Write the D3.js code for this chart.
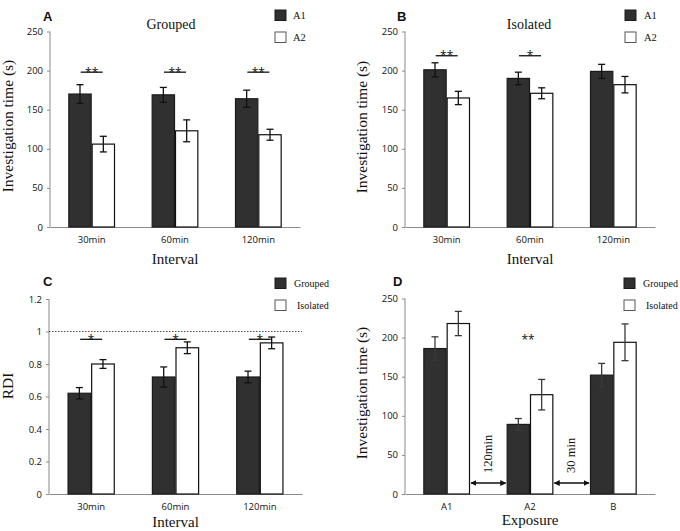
<!DOCTYPE html>
<html>
<head>
<meta charset="utf-8">
<script src="https://cdn.jsdelivr.net/npm/d3@7"></script>
<style>
  html, body { margin: 0; padding: 0; background: #fff; }
  svg { display: block; }
</style>
</head>
<body>
<svg id="chart" width="680" height="531"></svg>
<script>
// ---------- DATA ----------
const intervals = ["30min", "60min", "120min"];
const exposures = ["A1", "A2", "B"];

// Panel A (Grouped)
const groupedA1 = [170, 169, 164];
const groupedA1Err = [12, 9.5, 11];
const groupedA2 = [106, 123, 118];
const groupedA2Err = [10, 14, 7];
const sigA = ["**", "**", "**"];

// Panel B (Isolated)
const isolatedA1 = [201, 190, 199];
const isolatedA1Err = [9, 8, 9];
const isolatedA2 = [165, 171, 182];
const isolatedA2Err = [8.5, 7, 10.5];
const sigB = ["**", "*", ""];

// Panel C (RDI)
const rdiGrouped = [0.62, 0.72, 0.72];
const rdiGroupedErr = [0.035, 0.062, 0.036];
const rdiIsolated = [0.80, 0.90, 0.93];
const rdiIsolatedErr = [0.027, 0.036, 0.036];
const sigC = ["*", "*", "*"];

// Panel D (Exposure)
const expGrouped = [186, 89, 152];
const expGroupedErr = [15, 7.5, 15];
const expIsolated = [218, 127, 194];
const expIsolatedErr = [15.5, 19.5, 23.5];

const ticksTime = [0, 50, 100, 150, 200, 250];
const ticksRDI = [0, 0.2, 0.4, 0.6, 0.8, 1, 1.2];

// ---------- STYLE ----------
const DARK = "#303030";
const AXIS = "#8a8a8a";
const SERIF = "'Liberation Serif', 'Times New Roman', serif";
const SANS = "'Open Sans', 'Liberation Sans', sans-serif";

const svg = d3.select("#chart");

function drawPanel(cfg) {
  const g = svg.append("g");
  const x = d3.scaleBand().domain(cfg.cats).range([cfg.x0, cfg.x1])
    .paddingInner(0.44).paddingOuter(0.22);
  const xs = d3.scaleBand().domain([0, 1]).range([0, x.bandwidth()]);
  const y = d3.scaleLinear().domain(cfg.domain).range([cfg.y0, cfg.y1]);

  // y axis
  const ya = g.append("g").attr("transform", `translate(${cfg.x0},0)`)
    .call(d3.axisLeft(y).tickValues(cfg.ticks).tickSize(3).tickPadding(4)
      .tickFormat(cfg.fmt || d3.format("d")));
  ya.select(".domain").attr("stroke", AXIS).attr("d", `M0,${cfg.y0}V${cfg.y1}`);
  ya.selectAll(".tick line").attr("stroke", AXIS);
  ya.selectAll(".tick text").attr("font-family", SANS).attr("font-size", 9.5).attr("fill", "#111");

  // x axis
  const xa = g.append("g").attr("transform", `translate(0,${cfg.y0})`)
    .call(d3.axisBottom(x).tickSize(0).tickPadding(9));
  xa.select(".domain").attr("stroke", AXIS);
  xa.selectAll(".tick text").attr("font-family", SANS).attr("font-size", 9.5).attr("fill", "#111");

  // reference line
  if (cfg.refLine !== undefined) {
    g.append("line")
      .attr("x1", cfg.x0).attr("x2", cfg.x1)
      .attr("y1", y(cfg.refLine)).attr("y2", y(cfg.refLine))
      .attr("stroke", "#222").attr("stroke-width", 0.8)
      .attr("stroke-dasharray", "1.5,1.5");
  }

  // bars
  const series = [
    { vals: cfg.s1, errs: cfg.e1, fill: DARK, stroke: "#1a1a1a" },
    { vals: cfg.s2, errs: cfg.e2, fill: "#fff", stroke: "#111" }
  ];
  series.forEach((s, si) => {
    cfg.cats.forEach((c, i) => {
      const bx = x(c) + xs(si);
      const bw = xs.bandwidth();
      g.append("rect")
        .attr("x", bx + 0.5).attr("y", y(s.vals[i]))
        .attr("width", bw - 1).attr("height", y(0) - y(s.vals[i]))
        .attr("fill", s.fill).attr("stroke", s.stroke).attr("stroke-width", 1.2);
    });
  });
  // error bars
  series.forEach((s, si) => {
    cfg.cats.forEach((c, i) => {
      const cx = x(c) + xs(si) + xs.bandwidth() / 2;
      const top = y(s.vals[i] + s.errs[i]);
      const bot = y(s.vals[i] - s.errs[i]);
      const col = cfg.errColor || "#111";
      g.append("line").attr("x1", cx).attr("x2", cx).attr("y1", top).attr("y2", bot)
        .attr("stroke", col).attr("stroke-width", 1.3);
      [top, bot].forEach(yy => {
        g.append("line").attr("x1", cx - 3.5).attr("x2", cx + 3.5).attr("y1", yy).attr("y2", yy)
          .attr("stroke", col).attr("stroke-width", 1.3);
      });
    });
  });

  // significance
  if (cfg.sig) {
    cfg.cats.forEach((c, i) => {
      if (!cfg.sig[i]) return;
      const cx = x(c) + x.bandwidth() / 2;
      const yy = y(cfg.sigY);
      g.append("line").attr("x1", cx - 11).attr("x2", cx + 11).attr("y1", yy).attr("y2", yy)
        .attr("stroke", "#111").attr("stroke-width", 1.3);
      g.append("text").attr("x", cx).attr("y", yy + 4.5)
        .attr("text-anchor", "middle").attr("font-family", SANS)
        .attr("font-size", 12).attr("fill", "#111").text(cfg.sig[i]);
    });
  }

  // panel letter
  g.append("text").attr("x", cfg.letterX).attr("y", cfg.letterY)
    .attr("font-family", "'Liberation Sans', Arial, sans-serif").attr("font-weight", "bold")
    .attr("font-size", 13).attr("fill", "#111").text(cfg.letter);

  // title
  if (cfg.title) {
    g.append("text").attr("x", cfg.titleX).attr("y", cfg.titleY)
      .attr("text-anchor", "middle").attr("font-family", SERIF)
      .attr("font-size", 14).attr("fill", "#111").text(cfg.title);
  }

  // y title
  g.append("text")
    .attr("transform", `translate(${cfg.yTitleX},${cfg.yTitleY}) rotate(-90)`)
    .attr("text-anchor", "middle").attr("dy", "0.35em")
    .attr("font-family", SERIF).attr("font-size", 15.5).attr("fill", "#111")
    .text(cfg.yTitle);

  // x title
  g.append("text").attr("x", (cfg.x0 + cfg.x1) / 2).attr("y", cfg.xTitleY)
    .attr("text-anchor", "middle").attr("font-family", SERIF)
    .attr("font-size", 15).attr("fill", "#111").text(cfg.xTitle);

  // legend
  cfg.legend.forEach((name, li) => {
    const ly = cfg.legY + li * 22;
    g.append("rect").attr("x", cfg.legX).attr("y", ly).attr("width", 11).attr("height", 10.5)
      .attr("fill", li === 0 ? DARK : "#fff").attr("stroke", li === 0 ? "#1a1a1a" : "#555")
      .attr("stroke-width", 1);
    g.append("text").attr("x", cfg.legX + cfg.legTextDx[li]).attr("y", ly + 9)
      .attr("font-family", SERIF).attr("font-size", cfg.legFont || 10.5).attr("fill", "#111").text(name);
  });

  return { g, x, xs, y };
}

// Panel A
drawPanel({
  cats: intervals, s1: groupedA1, e1: groupedA1Err, s2: groupedA2, e2: groupedA2Err,
  x0: 50, x1: 300, y0: 227, y1: 31.5, domain: [0, 250], ticks: ticksTime,
  sig: sigA, sigY: 198,
  letter: "A", letterX: 43, letterY: 21,
  title: "Grouped", titleX: 171, titleY: 29,
  yTitle: "Investigation time (s)", yTitleX: 8, yTitleY: 126,
  xTitle: "Interval", xTitleY: 264,
  legend: ["A1", "A2"], legX: 275, legY: 10, legTextDx: [18, 18]
});

// Panel B
drawPanel({
  cats: intervals, s1: isolatedA1, e1: isolatedA1Err, s2: isolatedA2, e2: isolatedA2Err,
  x0: 405, x1: 655, y0: 227, y1: 31.5, domain: [0, 250], ticks: ticksTime,
  sig: sigB, sigY: 219,
  letter: "B", letterX: 397, letterY: 21,
  title: "Isolated", titleX: 529, titleY: 29,
  yTitle: "Investigation time (s)", yTitleX: 362, yTitleY: 127,
  xTitle: "Interval", xTitleY: 264,
  legend: ["A1", "A2"], legX: 625, legY: 10, legTextDx: [19, 19]
});

// Panel C
drawPanel({
  cats: intervals, s1: rdiGrouped, e1: rdiGroupedErr, s2: rdiIsolated, e2: rdiIsolatedErr,
  x0: 49, x1: 302, y0: 494, y1: 299, domain: [0, 1.2], ticks: ticksRDI,
  fmt: d => d === 0 || d === 1 ? d3.format("d")(d) : d3.format(".1f")(d),
  refLine: 1, sig: sigC, sigY: 0.952,
  letter: "C", letterX: 43, letterY: 286,
  yTitle: "RDI", yTitleX: 8, yTitleY: 386,
  xTitle: "Interval", xTitleY: 527,
  legend: ["Grouped", "Isolated"], legX: 275, legY: 278, legTextDx: [19, 22], legFont: 10
});

// Panel D
const pD = drawPanel({
  cats: exposures, s1: expGrouped, e1: expGroupedErr, s2: expIsolated, e2: expIsolatedErr,
  x0: 405, x1: 655, y0: 494, y1: 298.5, domain: [0, 250], ticks: ticksTime,
  errColor: "#3a3a3a",
  letter: "D", letterX: 393, letterY: 286,
  yTitle: "Investigation time (s)", yTitleX: 362, yTitleY: 393,
  xTitle: "Exposure", xTitleY: 525,
  legend: ["Grouped", "Isolated"], legX: 624, legY: 278, legTextDx: [19, 22], legFont: 10
});

// Panel D extras
(function () {
  const { g, x, y } = pD;
  g.append("text").attr("x", x("A2") + x.bandwidth() / 2 - 2).attr("y", y(200) + 6)
    .attr("text-anchor", "middle").attr("font-family", SANS)
    .attr("font-size", 12).attr("fill", "#111").text("**");

  const defs = svg.append("defs");
  defs.append("marker").attr("id", "ah").attr("viewBox", "0 0 10 10")
    .attr("refX", 9).attr("refY", 5).attr("markerWidth", 6).attr("markerHeight", 6)
    .attr("markerUnits", "userSpaceOnUse")
    .attr("orient", "auto-start-reverse")
    .append("path").attr("d", "M0,0L10,5L0,10Z").attr("fill", "#111");

  const gaps = [
    { from: "A1", to: "A2", label: "120min" },
    { from: "A2", to: "B", label: "30 min" }
  ];
  gaps.forEach(gp => {
    const xa = x(gp.from) + x.bandwidth() + 1;
    const xb = x(gp.to) - 1;
    const ay = y(14);
    g.append("line").attr("x1", xa).attr("x2", xb).attr("y1", ay).attr("y2", ay)
      .attr("stroke", "#111").attr("stroke-width", 1.5)
      .attr("marker-start", "url(#ah)").attr("marker-end", "url(#ah)");
    g.append("text")
      .attr("transform", `translate(${(xa + xb) / 2 - 1},${y(27)}) rotate(-90)`)
      .attr("dy", "0.35em").attr("text-anchor", "start")
      .attr("font-family", SERIF).attr("font-size", 12.5).attr("fill", "#111")
      .text(gp.label);
  });
})();
</script>
</body>
</html>
